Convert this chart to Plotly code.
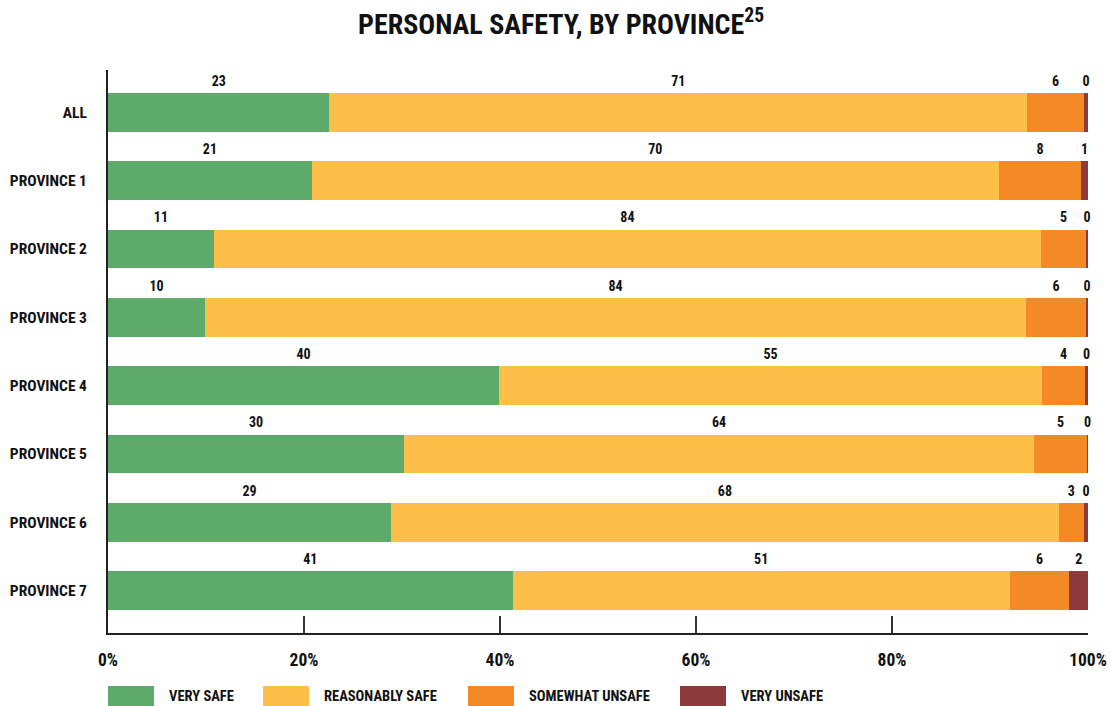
import plotly.graph_objects as go

# Survey shares (%) by region
categories = ["ALL", "PROVINCE 1", "PROVINCE 2", "PROVINCE 3",
              "PROVINCE 4", "PROVINCE 5", "PROVINCE 6", "PROVINCE 7"]
very_safe = [22.6, 20.8, 10.8, 9.9, 39.9, 30.2, 28.9, 41.3]
reasonably_safe = [71.2, 70.1, 84.4, 83.8, 55.4, 64.3, 68.1, 50.7]
somewhat_unsafe = [5.8, 8.4, 4.6, 6.1, 4.4, 5.4, 2.6, 6.1]
very_unsafe = [0.4, 0.7, 0.2, 0.2, 0.3, 0.1, 0.4, 1.9]

series_names = ["VERY SAFE", "REASONABLY SAFE", "SOMEWHAT UNSAFE", "VERY UNSAFE"]
series_values = [very_safe, reasonably_safe, somewhat_unsafe, very_unsafe]
colors = ["#5EAA6B", "#FDBF47", "#F48A25", "#8E393C"]

x_ticks = [0, 20, 40, 60, 80, 100]
x_tick_labels = ["0%", "20%", "40%", "60%", "80%", "100%"]

FONT = "Roboto Condensed, Open Sans Condensed, sans-serif"
W, H = 1111, 706
ML, MR, MT, MB = 108, 23, 70, 73

rows = list(range(len(categories)))
fig = go.Figure()

left = [0.0] * len(categories)
for name, vals, col in zip(series_names, series_values, colors):
    fig.add_trace(go.Bar(
        y=rows, x=vals, base=left, orientation="h", name=name,
        marker=dict(color=col, line=dict(width=0)), width=0.57,
        showlegend=False, hoverinfo="x+name",
    ))
    # value label centred over each segment, just above the bar
    mids = [b + v / 2 for b, v in zip(left, vals)]
    fig.add_trace(go.Scatter(
        x=mids, y=[r - 0.44 for r in rows], mode="text",
        text=[f"{v:.0f}" for v in vals],
        textfont=dict(family=FONT, size=14, color="#111", weight="bold"),
        cliponaxis=False, showlegend=False, hoverinfo="skip",
    ))
    left = [b + v for b, v in zip(left, vals)]

fig.update_layout(
    width=W, height=H,
    margin=dict(l=ML, r=MR, t=MT, b=MB, autoexpand=False),
    paper_bgcolor="white", plot_bgcolor="white",
    barmode="overlay", bargap=0,
    title=dict(text="PERSONAL SAFETY, BY PROVINCE<sup>25</sup>",
               x=0.505, xanchor="center", y=0.966, yanchor="middle",
               font=dict(family=FONT, size=28, color="#111", weight="bold")),
    xaxis=dict(range=[0, 100], tickvals=x_ticks, ticktext=x_tick_labels,
               automargin=False,
               showgrid=False, zeroline=False, showline=True, linecolor="#222",
               linewidth=2, ticks="inside", ticklen=17, tickwidth=2, tickcolor="#333",
               tickfont=dict(family=FONT, size=17.5, color="#111", weight="bold"),
               ticklabelstandoff=10),
    yaxis=dict(range=[len(categories) - 1 + 0.62, -0.62], tickvals=rows,
               ticktext=categories, showgrid=False, zeroline=False, automargin=False,
               showline=True, linecolor="#222", linewidth=2, ticks="",
               tickfont=dict(family=FONT, size=15.5, color="#111", weight="bold"),
               ticklabelstandoff=16),
)

# legend drawn as wide swatches below the axis
pw, ph = W - ML - MR, H - MT - MB
def px_x(x):
    return (x - ML) / pw
def px_y(y):
    return (H - MB - y) / ph

legend_box_x = [108, 263, 468, 680]
for bx, name, col in zip(legend_box_x, series_names, colors):
    fig.add_shape(type="rect", xref="paper", yref="paper",
                  x0=px_x(bx), x1=px_x(bx + 46), y0=px_y(706), y1=px_y(686),
                  fillcolor=col, line=dict(width=0))
    fig.add_annotation(xref="paper", yref="paper", x=px_x(bx + 59), y=px_y(696),
                       xanchor="left", yanchor="middle", text=name, showarrow=False,
                       font=dict(family=FONT, size=14.5, color="#111", weight="bold"))

fig.write_html("out.html")
